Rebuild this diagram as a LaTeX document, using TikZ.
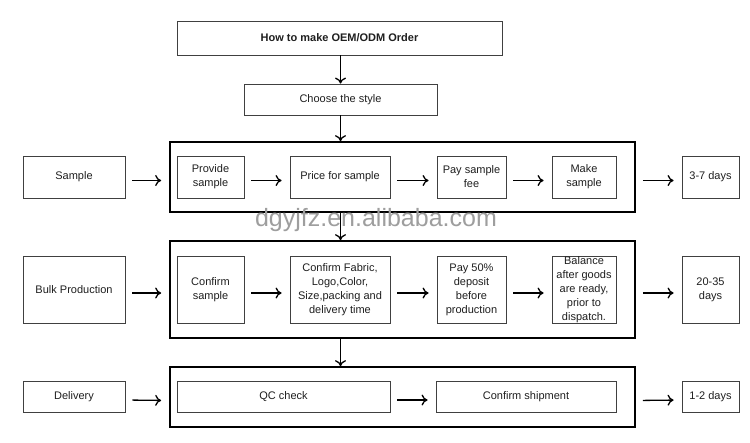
\documentclass[tikz,border=0pt]{standalone}
\usepackage{fontspec}
\setmainfont{Liberation Sans}
\usetikzlibrary{arrows.meta}
\tikzset{
  box/.style={draw=black!75, line width=0.9pt, align=center, inner sep=0pt,
    text=black!88, font=\fontsize{11}{14}\selectfont},
  frame/.style={draw=black, line width=1.7pt, inner sep=0pt},
  arr/.style={line width=1.3pt, -{To[length=6pt,width=11pt,line width=1.3pt]}},
  harr/.style={arr, shorten <=7pt, shorten >=8pt},
}
\begin{document}
\begin{tikzpicture}[x=1pt,y=-1pt]
\useasboundingbox[fill=white] (0,0) rectangle (750,442);
% title and style
\node[box, minimum width=325pt, minimum height=34pt, font=\fontsize{11}{14}\selectfont\bfseries] (title) at (339.5,38) {How to make OEM/ODM Order};
\node[box, minimum width=193pt, minimum height=31pt] (choose) at (340.5,99.5) {Choose the style};
% frames
\node[frame, minimum width=465pt, minimum height=70pt] (outer1) at (402.5,177) {};
\node[frame, minimum width=465pt, minimum height=97pt] (outer2) at (402.5,289.5) {};
\node[frame, minimum width=465pt, minimum height=60pt] (outer3) at (402.5,397) {};
% sample row
\node[box, minimum width=102pt, minimum height=42pt] (sample) at (74,177) {Sample};
\node[box, minimum width=67pt, minimum height=42pt] (provide) at (210.5,177) {Provide\\sample};
\node[box, minimum width=100pt, minimum height=42pt] (price) at (340,177) {Price for sample};
\node[box, minimum width=69pt, minimum height=42pt] (payfee) at (471.5,177) {Pay sample\\fee};
\node[box, minimum width=64pt, minimum height=42pt] (make) at (584,177) {Make\\sample};
\node[box, minimum width=57pt, minimum height=42pt] (d1) at (710.5,177) {3-7 days};
% bulk row
\node[box, minimum width=102pt, minimum height=67pt] (bulk) at (74,289.5) {Bulk Production};
\node[box, minimum width=67pt, minimum height=67pt] (confirm) at (210.5,289.5) {Confirm\\sample};
\node[box, minimum width=100pt, minimum height=67pt] (fabric) at (340,289.5) {Confirm Fabric,\\Logo,Color,\\Size,packing and\\delivery time};
\node[box, minimum width=69pt, minimum height=67pt] (pay50) at (471.5,289.5) {Pay 50\%\\deposit\\before\\production};
\node[box, minimum width=64pt, minimum height=67pt] (balance) at (584,289.5) {Balance\\after goods\\are ready,\\prior to\\dispatch.};
\node[box, minimum width=57pt, minimum height=67pt] (d2) at (710.5,289.5) {20-35\\days};
% delivery row
\node[box, minimum width=102pt, minimum height=31pt] (delivery) at (74,396.5) {Delivery};
\node[box, minimum width=213pt, minimum height=31pt] (qc) at (283.5,396.5) {QC check};
\node[box, minimum width=180pt, minimum height=31pt] (ship) at (526,396.5) {Confirm shipment};
\node[box, minimum width=57pt, minimum height=31pt] (d3) at (710.5,396.5) {1-2 days};
% watermark
\node[text=black!38, font=\fontsize{25}{25}\selectfont, inner sep=0pt] (wm) at (376,220) {dgyjfz.en.alibaba.com};
% vertical arrows
\draw[arr] (title.south -| choose.south) -- (choose.north);
\draw[arr] (choose.south) -- (choose.south |- outer1.north);
\draw[arr] (outer1.south -| choose.south) -- (outer2.north -| choose.south);
\draw[arr] (outer2.south -| choose.south) -- (outer3.north -| choose.south);
% horizontal arrows
\foreach \a/\b in {sample/outer1, provide/price, price/payfee, payfee/make, outer1/d1,
                   bulk/outer2, confirm/fabric, fabric/pay50, pay50/balance, outer2/d2,
                   delivery/outer3, qc/ship, outer3/d3}
  \draw[harr] ([yshift=-3.5pt]\a.east) -- ([yshift=-3.5pt]\b.west);
\end{tikzpicture}
\end{document}
